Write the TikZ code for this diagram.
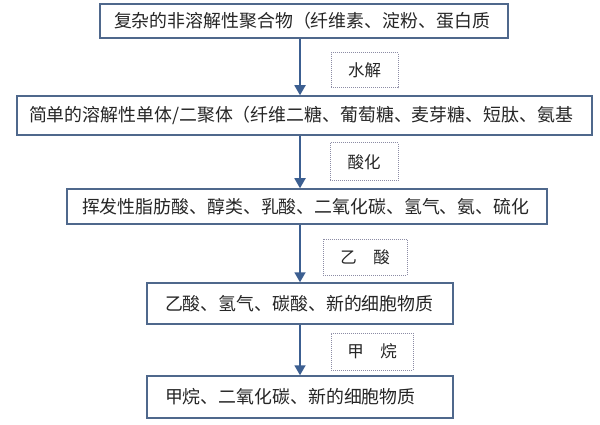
\documentclass[tikz,border=0pt]{standalone}
\usepackage{fontspec}
\setmainfont{Noto Sans CJK SC}
\usetikzlibrary{arrows.meta}
\definecolor{boxc}{RGB}{79,104,140}
\definecolor{arrc}{RGB}{60,95,145}
\definecolor{dotc}{RGB}{140,140,165}
\begin{document}
\begin{tikzpicture}[x=1pt,y=-1pt,
  stagebox/.style={draw=boxc, line width=1.5pt, inner ysep=0pt, align=left,
    font=\fontsize{17.9}{20}\selectfont, text=black!85, anchor=center},
  lbl/.style={draw=dotc, line width=1pt, dash pattern=on 1pt off 1pt, inner sep=0pt,
    font=\fontsize{16.5}{19}\selectfont, text=black!85},
  arr/.style={draw=arrc, line width=1.8pt, -{Triangle[length=10pt,width=11pt]}}]
\useasboundingbox[fill=white] (0,0) rectangle (600,425);
\coordinate (ax) at (300,0);
\node[stagebox, inner xsep=14pt, text width=380pt, minimum height=34pt] (b1) at (304,21)
  {复杂的非溶解性聚合物（纤维素、淀粉、蛋白质};
\node[stagebox, inner xsep=12pt, text width=551pt, minimum height=39pt] (b2) at (304.5,115.5)
  {简单的溶解性单体/二聚体（纤维二糖、葡萄糖、麦芽糖、短肽、氨基};
\node[stagebox, inner xsep=15pt, text width=450pt, minimum height=35pt] (b3) at (307,206.5)
  {挥发性脂肪酸、醇类、乳酸、二氧化碳、氢气、氨、硫化};
\node[stagebox, inner xsep=18pt, text width=270pt, minimum height=41pt] (b4) at (300,303.5)
  {乙酸、氢气、碳酸、新的细胞物质};
\node[stagebox, inner xsep=18pt, text width=270pt, minimum height=42pt] (b5) at (300,397)
  {甲烷、二氧化碳、新的细胞物质};
\node[lbl, minimum width=67pt, minimum height=35pt] (l1) at (364.5,70.5) {水解};
\node[lbl, minimum width=68pt, minimum height=38pt] (l2) at (364,162) {酸化};
\node[lbl, minimum width=84pt, minimum height=36pt] (l3) at (365,257) {乙\hspace{1em}酸};
\node[lbl, minimum width=82pt, minimum height=37pt] (l4) at (372,351.5) {甲\hspace{1em}烷};
\draw[arr] (b1.south -| ax) -- (b2.north -| ax);
\draw[arr] (b2.south -| ax) -- (b3.north -| ax);
\draw[arr] (b3.south -| ax) -- (b4.north -| ax);
\draw[arr] (b4.south -| ax) -- (b5.north -| ax);
\end{tikzpicture}
\end{document}
